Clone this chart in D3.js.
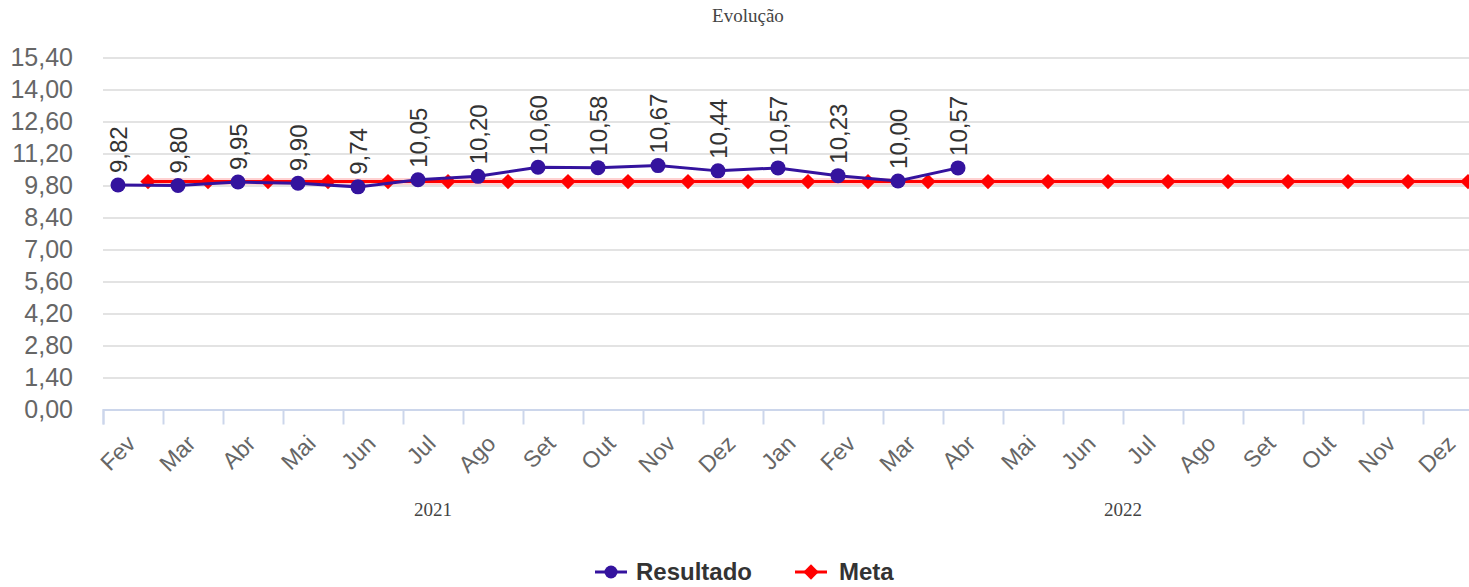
<!DOCTYPE html>
<html>
<head>
<meta charset="utf-8">
<script src="https://cdn.jsdelivr.net/npm/d3@7"></script>
<style>
  body { margin: 0; background: #fff; }
  svg { display: block; }
</style>
</head>
<body>
<div id="chart-container" style="width:1469px;height:587px"></div>
<script>
const months = ['Fev', 'Mar', 'Abr', 'Mai', 'Jun', 'Jul', 'Ago', 'Set', 'Out', 'Nov', 'Dez',
  'Jan', 'Fev', 'Mar', 'Abr', 'Mai', 'Jun', 'Jul', 'Ago', 'Set', 'Out', 'Nov', 'Dez']
const years = [
  { label: '2021', from: 0, to: 11 },
  { label: '2022', from: 11, to: 23 }
]
const resultado = [9.82, 9.80, 9.95, 9.90, 9.74, 10.05, 10.20, 10.60, 10.58, 10.67, 10.44, 10.57, 10.23, 10.00, 10.57]
const meta = months.map(() => 9.97)
const yTicks = [0, 1.4, 2.8, 4.2, 5.6, 7.0, 8.4, 9.8, 11.2, 12.6, 14.0, 15.4]

const W = 1469
const H = 587
const left = 103
const bw = 60

const svg = d3.select('#chart-container').append('svg')
  .attr('width', W)
  .attr('height', H)
  .style('font-family', '"Liberation Sans", Arial, sans-serif')

// index -> x, band boundaries on integers
const x = d3.scaleLinear()
  .domain([0, months.length])
  .range([left, left + months.length * bw])

const y = d3.scaleLinear()
  .domain([0, 15.4])
  .range([409.5, 57.5])

const fmt = v => d3.format('.2f')(v).replace('.', ',')

// title
svg.append('text')
  .attr('x', 748)
  .attr('y', 22)
  .attr('text-anchor', 'middle')
  .style('font-family', '"Liberation Serif", "Times New Roman", serif')
  .style('font-size', '19px')
  .attr('fill', '#444')
  .text('Evolução')

// grid + y labels
const yAxis = d3.axisLeft(y)
  .tickValues(yTicks)
  .tickSize(-(W - left))
  .tickFormat(fmt)

svg.append('g')
  .attr('class', 'y axis')
  .attr('transform', 'translate(' + left + ',0)')
  .call(yAxis)
  .call(g => g.select('.domain').remove())
  .call(g => g.selectAll('line').attr('stroke', '#e3e3e3').attr('stroke-width', 2))
  .call(g => g.selectAll('text')
    .attr('x', -30)
    .attr('fill', '#666')
    .style('font-size', '25px'))

// x axis ticks at band boundaries
const xAxis = d3.axisBottom(x)
  .tickValues(d3.range(months.length + 1))
  .tickSize(15)
  .tickFormat('')

svg.append('g')
  .attr('class', 'x axis')
  .attr('transform', 'translate(0,' + y(0) + ')')
  .call(xAxis)
  .call(g => g.select('.domain').attr('stroke', '#ccd6eb').attr('stroke-width', 2))
  .call(g => g.selectAll('line').attr('stroke', '#ccd6eb').attr('stroke-width', 2))

svg.append('g').selectAll('text')
  .data(months)
  .join('text')
  .attr('transform', (d, i) => 'translate(' + (x(i + 0.5) + 4) + ',' + 445 + ') rotate(-45)')
  .attr('text-anchor', 'end')
  .attr('fill', '#666')
  .style('font-size', '23px')
  .text(d => d)

svg.append('g').selectAll('text')
  .data(years)
  .join('text')
  .attr('x', d => x((d.from + d.to) / 2))
  .attr('y', 516)
  .attr('text-anchor', 'middle')
  .attr('fill', '#444')
  .style('font-family', '"Liberation Serif", "Times New Roman", serif')
  .style('font-size', '19px')
  .text(d => d.label)

// meta series (right of band)
const metaLine = d3.line()
  .x((d, i) => x(i + 0.75))
  .y(d => y(d))

svg.append('path')
  .datum(meta)
  .attr('d', metaLine)
  .attr('fill', 'none')
  .attr('stroke', 'rgba(255,0,0,0.18)')
  .attr('stroke-width', 7)

svg.append('path')
  .datum(meta)
  .attr('d', metaLine)
  .attr('fill', 'none')
  .attr('stroke', '#ff0000')
  .attr('stroke-width', 3)

const diamond = d3.symbol().type(d3.symbolDiamond2).size(150)

svg.append('g').selectAll('path')
  .data(meta)
  .join('path')
  .attr('transform', (d, i) => 'translate(' + x(i + 0.75) + ',' + y(d) + ')')
  .attr('d', diamond)
  .attr('fill', '#ff0000')

// resultado series (left of band)
const resLine = d3.line()
  .x((d, i) => x(i + 0.25))
  .y(d => y(d))

svg.append('path')
  .datum(resultado)
  .attr('d', resLine)
  .attr('fill', 'none')
  .attr('stroke', '#34139e')
  .attr('stroke-width', 3)

svg.append('g').selectAll('circle')
  .data(resultado)
  .join('circle')
  .attr('cx', (d, i) => x(i + 0.25))
  .attr('cy', d => y(d))
  .attr('r', 7.5)
  .attr('fill', '#34139e')

svg.append('g').selectAll('text')
  .data(resultado)
  .join('text')
  .attr('transform', (d, i) => 'translate(' + (x(i + 0.25) + 9) + ',' + (y(d) - 12) + ') rotate(-90)')
  .attr('fill', '#333')
  .style('font-size', '24px')
  .text(fmt)

// legend
const legend = svg.append('g').attr('transform', 'translate(595,572)')
legend.append('line').attr('x1', 0).attr('x2', 32).attr('stroke', '#34139e').attr('stroke-width', 3)
legend.append('circle').attr('cx', 16).attr('r', 6.5).attr('fill', '#34139e')
legend.append('text').attr('x', 41).attr('y', 8).attr('fill', '#333')
  .style('font-size', '24px').style('font-weight', 'bold').text('Resultado')
legend.append('line').attr('x1', 200).attr('x2', 232).attr('stroke', '#ff0000').attr('stroke-width', 3)
legend.append('path').attr('transform', 'translate(216,0)').attr('d', diamond).attr('fill', '#ff0000')
legend.append('text').attr('x', 244).attr('y', 8).attr('fill', '#333')
  .style('font-size', '24px').style('font-weight', 'bold').text('Meta')
</script>
</body>
</html>
